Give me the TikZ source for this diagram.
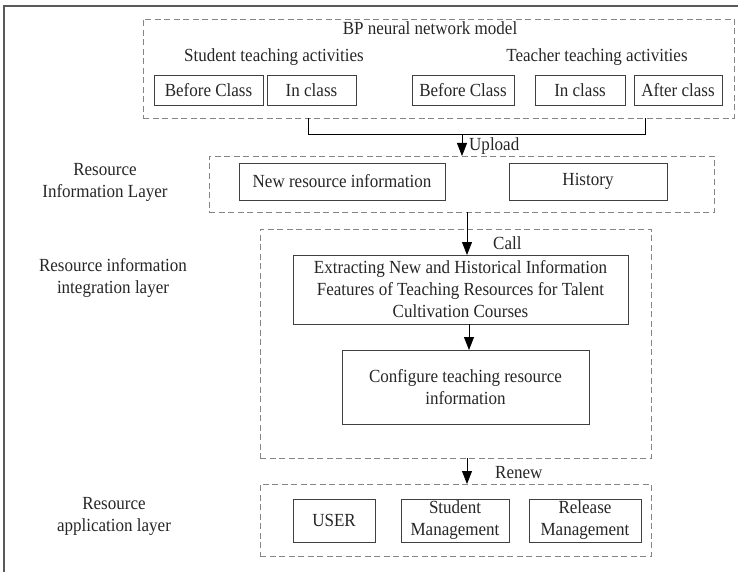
\documentclass[tikz,border=0pt]{standalone}
\usepackage{fontspec}
\setmainfont{Liberation Serif}[FakeStretch=0.92]
\usetikzlibrary{arrows.meta}
\definecolor{framegray}{HTML}{5A5A5A}
\definecolor{dashgray}{HTML}{858585}
\definecolor{boxgray}{HTML}{404040}
\begin{document}
\begin{tikzpicture}[x=1pt,y=-1pt,
        every node/.style={font=\fontsize{18.5}{22}\selectfont, text=black!85},
        layer/.style={draw=dashgray, dash pattern=on 6pt off 3.5pt, line width=0.9pt, inner sep=0pt, outer sep=0pt},
        item/.style={draw=boxgray, line width=0.8pt, inner sep=0pt, outer sep=0pt, align=center},
        tag/.style={align=center, inner sep=0pt},
        arr/.style={-{Triangle[width=10pt,length=13pt]}, line width=0.8pt}]
        \useasboundingbox (0,0) rectangle (738,572);
        \draw[framegray, line width=1.2pt] (4,572) -- (4,6) -- (738,6);

        % model layer
        \node[layer, minimum width=591pt, minimum height=99pt] (bp) at (438.5,68.5) {};
        \node[tag] (bptitle) at (430,28) {BP neural network model};
        \node[tag] (stu) at (274,57) {Student teaching activities};
        \node[tag] (tea) at (597,57) {Teacher teaching activities};
        \node[item, minimum width=109pt, minimum height=30pt] (sbefore) at (208.5,90) {Before Class};
        \node[item, minimum width=89pt, minimum height=30pt] (sin) at (311.5,90) {In class};
        \node[item, minimum width=102pt, minimum height=30pt] (tbefore) at (463,90) {Before Class};
        \node[item, minimum width=90pt, minimum height=30pt] (tin) at (580,90) {In class};
        \node[item, minimum width=88pt, minimum height=30pt] (tafter) at (678,90) {After class};

        % resource information layer
        \node[tag] (lblinfo) at (105,182) {Resource\\Information Layer};
        \node[layer, minimum width=505pt, minimum height=56pt] (info) at (461.5,184) {};
        \node[item, minimum width=206pt, minimum height=37pt] (newinfo) at (342,181.5) {New resource information};
        \node[item, minimum width=158pt, minimum height=37pt] (history) at (588,181.5) {History};

        % integration layer
        \node[tag] (lblinteg) at (113,278) {Resource information\\integration layer};
        \node[layer, minimum width=391pt, minimum height=229pt] (integ) at (455.5,343.5) {};
        \node[item, minimum width=335pt, minimum height=69pt] (extract) at (460.5,289.5)
            {Extracting New and Historical Information\\Features of Teaching Resources for Talent\\Cultivation Courses};
        \node[item, minimum width=247pt, minimum height=74pt] (config) at (465.5,387)
            {Configure teaching resource\\information};

        % application layer
        \node[tag] (lblapp) at (114,516) {Resource\\application layer};
        \node[layer, minimum width=391pt, minimum height=72pt] (app) at (455.5,520) {};
        \node[item, minimum width=82pt, minimum height=43pt] (user) at (334,520.5) {USER};
        \node[item, minimum width=108pt, minimum height=43pt] (stumgmt) at (455,520.5) {Student\\Management};
        \node[item, minimum width=112pt, minimum height=43pt] (relmgmt) at (585,520.5) {Release\\Management};

        % connectors
        \coordinate (jl) at (308,134);
        \coordinate (jr) at (645,134);
        \coordinate (jm) at (462,134);
        \coordinate (down) at (467,0);
        \draw[line width=0.8pt] (bp.south -| jl) -- (jl) -- (jr) -- (bp.south -| jr);
        \draw[arr] (jm) -- (info.north -| jm);
        \node[tag, anchor=west] (upload) at (469,146) {Upload};
        \draw[arr] (info.south -| down) -- (extract.north -| down);
        \node[tag, anchor=west] (call) at (493,243) {Call};
        \draw[arr] (extract.south -| 469,0) -- (config.north -| 469,0);
        \draw[arr] (integ.south -| down) -- (app.north -| down);
        \node[tag, anchor=west] (renew) at (495,473) {Renew};
\end{tikzpicture}
\end{document}
